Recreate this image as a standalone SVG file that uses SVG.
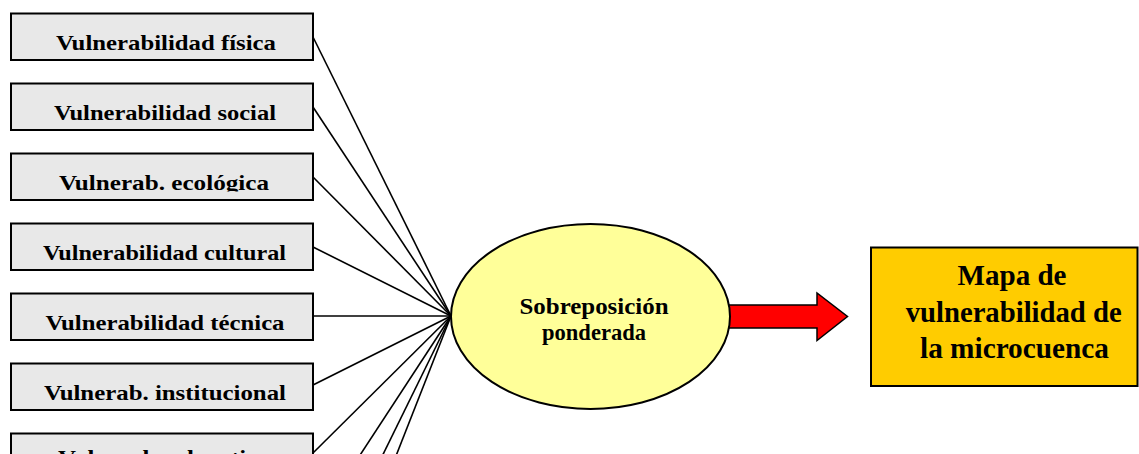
<svg xmlns="http://www.w3.org/2000/svg" width="1139" height="454" viewBox="0 0 1139 454">
<style>
.box{fill:#e8e8e8;stroke:#000;stroke-width:2}
.bt{font-family:"Liberation Serif","Times New Roman",serif;font-weight:bold;font-size:21px;fill:#000;text-anchor:middle}
.ct{font-family:"Liberation Serif","Times New Roman",serif;font-weight:bold;font-size:24px;fill:#000;text-anchor:middle}
.mt{font-family:"Liberation Serif","Times New Roman",serif;font-weight:bold;font-size:28.5px;fill:#000;text-anchor:middle}
.con line{stroke:#000;stroke-width:1.6}
</style>
<defs>
<clipPath id="clip3"><rect x="0" y="150" width="320" height="41.5"/></clipPath>
</defs>
<rect width="1139" height="454" fill="#fff"/>
<g id="connectors" class="con">
<line x1="313" y1="37" x2="451" y2="316"/>
<line x1="313" y1="107" x2="451" y2="316"/>
<line x1="313" y1="177" x2="451" y2="316"/>
<line x1="313" y1="247" x2="451" y2="316"/>
<line x1="313" y1="316" x2="451" y2="316"/>
<line x1="313" y1="385" x2="451" y2="316"/>
<line x1="313" y1="453" x2="451" y2="316"/>
<line x1="313" y1="527" x2="451" y2="316"/>
<line x1="313" y1="597" x2="451" y2="316"/>
<line x1="313" y1="667" x2="451" y2="316"/>
</g>
<g id="n1"><rect class="box" x="11" y="13.5" width="302" height="46.5"/><text class="bt" x="166" y="50.3" textLength="220" lengthAdjust="spacingAndGlyphs">Vulnerabilidad física</text></g>
<g id="n2"><rect class="box" x="11" y="83.5" width="302" height="46.5"/><text class="bt" x="165" y="120.3" textLength="222" lengthAdjust="spacingAndGlyphs">Vulnerabilidad social</text></g>
<g id="n3"><rect class="box" x="11" y="153.5" width="302" height="46.5"/><text class="bt" x="164" y="190.3" textLength="210" lengthAdjust="spacingAndGlyphs" clip-path="url(#clip3)">Vulnerab. ecológica</text></g>
<g id="n4"><rect class="box" x="11" y="223.5" width="302" height="46.5"/><text class="bt" x="164.5" y="260.3" textLength="243" lengthAdjust="spacingAndGlyphs">Vulnerabilidad cultural</text></g>
<g id="n5"><rect class="box" x="11" y="293.5" width="302" height="46.5"/><text class="bt" x="165" y="330.3" textLength="239" lengthAdjust="spacingAndGlyphs">Vulnerabilidad técnica</text></g>
<g id="n6"><rect class="box" x="11" y="363.5" width="302" height="46.5"/><text class="bt" x="165" y="400.3" textLength="242" lengthAdjust="spacingAndGlyphs">Vulnerab. institucional</text></g>
<g id="n7"><rect class="box" x="11" y="433.5" width="302" height="46.5"/><text class="bt" x="164.5" y="465" textLength="213" lengthAdjust="spacingAndGlyphs">Vulnerab. educativa</text></g>
<g id="arrow"><path d="M720,305 L817,305 L817,293 L847.5,316.5 L817,340.5 L817,328 L720,328 Z" fill="#ff0000" stroke="#000" stroke-width="1.5" stroke-linejoin="miter"/></g>
<g id="ellipse"><ellipse cx="590.5" cy="316.5" rx="139.5" ry="92.5" fill="#ffff99" stroke="#000" stroke-width="2"/>
<text class="ct" x="594" y="314" textLength="149" lengthAdjust="spacingAndGlyphs">Sobreposición</text>
<text class="ct" x="594" y="340" textLength="104" lengthAdjust="spacingAndGlyphs">ponderada</text></g>
<g id="mapa"><rect x="871" y="247.5" width="266.5" height="138.5" fill="#ffcc00" stroke="#000" stroke-width="2"/>
<text class="mt" x="1012" y="285" textLength="109" lengthAdjust="spacingAndGlyphs">Mapa de</text>
<text class="mt" x="1013.7" y="321.5" textLength="216" lengthAdjust="spacingAndGlyphs">vulnerabilidad de</text>
<text class="mt" x="1014.5" y="358" textLength="189" lengthAdjust="spacingAndGlyphs">la microcuenca</text></g>
</svg>
